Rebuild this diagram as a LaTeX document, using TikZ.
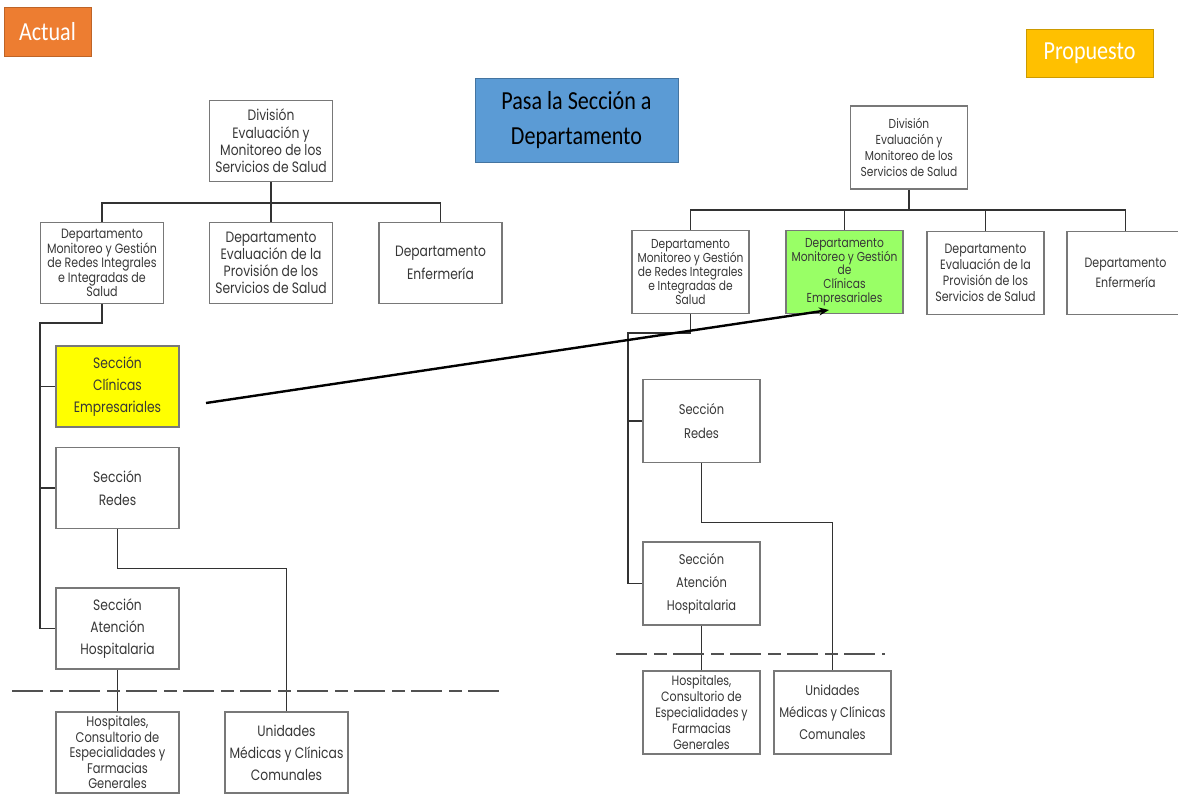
\documentclass[tikz,border=0pt]{standalone}
\usepackage{fontspec}
\usepackage{tikz}
\usetikzlibrary{positioning,arrows.meta,calc}
\setmainfont{Poppins}
\newfontfamily\orgfont[FakeStretch=0.82]{Poppins}
\newfontfamily\tagfont[FakeStretch=0.85]{Carlito}
\newcommand{\orgsize}[2]{\orgfont\fontsize{#1}{#2}\selectfont}
\definecolor{boxgray}{RGB}{120,120,120}
\definecolor{linegray}{RGB}{50,50,50}
\definecolor{textgray}{RGB}{55,55,55}
\definecolor{tagorange}{RGB}{237,125,49}
\definecolor{taggold}{RGB}{255,192,0}
\definecolor{tagblue}{RGB}{91,155,213}
\definecolor{secyellow}{RGB}{255,255,0}
\definecolor{depgreen}{RGB}{153,255,102}
\tikzstyle{unit}=[%
      rectangle, draw=boxgray, line width=1.9pt, fill=white, text=textgray,
      align=center, inner sep=0pt
]
\tikzstyle{unitL}=[unit, minimum width=123pt, minimum height=81pt]
\tikzstyle{unitR}=[unit, minimum width=117pt, minimum height=83pt]
\tikzstyle{tag}=[%
      rectangle, text=white, font=\tagfont\fontsize{26}{35}\selectfont, inner sep=0pt, align=center
]
\tikzstyle{link}=[draw=linegray, line width=1.9pt]
\tikzstyle{cut}=[draw=linegray!85, line width=2.6pt, dash pattern=on 31pt off 7pt on 13pt off 6pt]
\tikzstyle{transfer}=[draw=black, line width=2.4pt, -{Stealth[length=10pt,width=8pt]}]

\begin{document}
\begin{tikzpicture}[x=1pt, y=-1pt]
    \clip (0,0) rectangle (1178,807);
    \fill[white] (0,0) rectangle (1178,807);

    \node[tag, fill=tagorange, draw=tagorange!80!black, line width=0.6pt, minimum width=87pt, minimum height=49pt] (actual) at (47.5,31.5) {Actual};
    \node[tag, fill=taggold, draw=taggold!80!black, line width=0.6pt, minimum width=127pt, minimum height=48pt] (propuesto) at (1089.5,53.5) {Propuesto};
    \node[tag, text=black, fill=tagblue, draw=tagblue!75!black, line width=0.6pt, minimum width=203pt, minimum height=84pt] (pasa) at (576.5,120) {Pasa la Sección a\\Departamento};

    % actual
    \node[unitL, font=\orgsize{15}{17.3}] (divL) at (271,141) {División\\Evaluación y\\Monitoreo de los\\Servicios de Salud};
    \node[unitL, font=\orgsize{13.5}{14.4}] (d1L) at (102,263) {Departamento\\Monitoreo y Gestión\\de Redes Integrales\\e Integradas de\\Salud};
    \node[unitL, font=\orgsize{15}{17}] (d2L) at (271,263) {Departamento\\Evaluación de la\\Provisión de los\\Servicios de Salud};
    \node[unitL, font=\orgsize{15}{23}] (d3L) at (440.5,263) {Departamento\\Enfermería};
    \node[unitL, fill=secyellow, font=\orgsize{15}{22}] (cliL) at (117.5,386.5) {Sección\\Clínicas\\Empresariales};
    \node[unitL, font=\orgsize{15}{23}] (redL) at (117.5,488) {Sección\\Redes};
    \node[unitL, font=\orgsize{15}{22}] (atnL) at (117.5,628.5) {Sección\\Atención\\Hospitalaria};
    \node[unitL, font=\orgsize{14}{15.6}] (hosL) at (117.5,752.5) {Hospitales,\\Consultorio de\\Especialidades y\\Farmacias\\Generales};
    \node[unitL, font=\orgsize{15}{22}] (uniL) at (286.5,752.5) {Unidades\\Médicas y Clínicas\\Comunales};

    \coordinate (busL) at (271,203);
    \coordinate (trunkL) at (40,323);
    \draw[link] (divL.south) -- (d2L.north);
    \draw[link] (d1L.north) |- (busL) -| (d3L.north);
    \draw[link] (d1L.south) |- (trunkL) |- (atnL.west);
    \draw[link] (trunkL |- cliL.west) -- (cliL.west);
    \draw[link] (trunkL |- redL.west) -- (redL.west);
    \draw[link] (redL.south) -- ++(0,39) -| (uniL.north);
    \draw[link] (atnL.south) -- (hosL.north);
    \draw[cut] (12,691) -- (502,691);

    % propuesto
    \node[unitR, font=\orgsize{13}{16}] (divR) at (909,147.5) {División\\Evaluación y\\Monitoreo de los\\Servicios de Salud};
    \node[unitR, font=\orgsize{13}{13.8}] (r1R) at (690.5,272) {Departamento\\Monitoreo y Gestión\\de Redes Integrales\\e Integradas de\\Salud};
    \node[unitR, fill=depgreen, font=\orgsize{13}{13.8}] (r2R) at (844.5,272) {Departamento\\Monitoreo y Gestión\\de\\Clínicas\\Empresariales};
    \node[unitR, font=\orgsize{13.5}{16}] (r3R) at (985.5,273) {Departamento\\Evaluación de la\\Provisión de los\\Servicios de Salud};
    \node[unitR, font=\orgsize{13.5}{20}] (r4R) at (1125.5,273) {Departamento\\Enfermería};
    \node[unitR, font=\orgsize{14}{24}] (redR) at (701.5,421) {Sección\\Redes};
    \node[unitR, font=\orgsize{14}{23}] (atnR) at (701.5,583.5) {Sección\\Atención\\Hospitalaria};
    \node[unitR, font=\orgsize{13.5}{16}] (hosR) at (701.5,712.5) {Hospitales,\\Consultorio de\\Especialidades y\\Farmacias\\Generales};
    \node[unitR, font=\orgsize{14}{22}] (uniR) at (832.5,712.5) {Unidades\\Médicas y Clínicas\\Comunales};

    \coordinate (busR) at (909,210);
    \coordinate (trunkR) at (628,333);
    \draw[link] (divR.south) -- (busR);
    \draw[link] (r1R.north) |- (busR) -| (r4R.north);
    \draw[link] (r2R.north) -- (r2R.north |- busR);
    \draw[link] (r3R.north) -- (r3R.north |- busR);
    \draw[link] (r1R.south) |- (trunkR) |- (atnR.west);
    \draw[link] (trunkR |- redR.west) -- (redR.west);
    \draw[link] (redR.south) -- ++(0,59) -| (uniR.north);
    \draw[link] (atnR.south) -- (hosR.north);
    \draw[cut] (616,654) -- (885,654);

    \coordinate (moveS) at (206,403);
    \coordinate (moveE) at (829,310);
    \draw[transfer] (moveS) -- (moveE);
\end{tikzpicture}
\end{document}
